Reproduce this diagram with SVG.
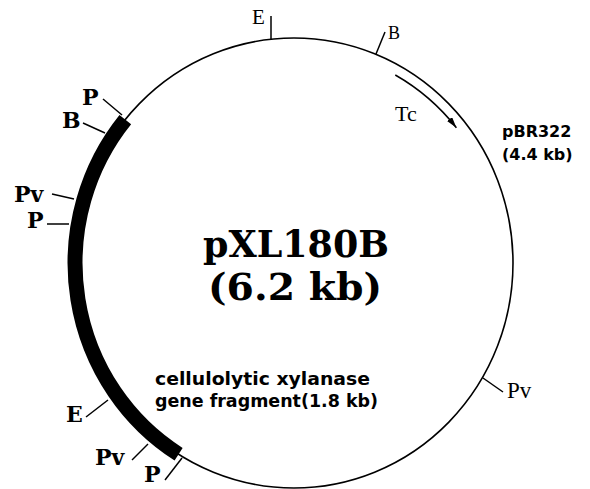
<svg xmlns="http://www.w3.org/2000/svg" width="590" height="489" viewBox="0 0 590 489">
<style>
.bb{fill:none;stroke:#000;stroke-width:1.6}
.tk{fill:none;stroke:#000;stroke-width:1.5}
.lb{font-family:"DejaVu Serif","Liberation Serif",serif;font-weight:bold;font-size:22px;fill:#000}
.rg{font-family:"Liberation Serif","DejaVu Serif",serif;fill:#000}
.sn{font-family:"DejaVu Sans","Liberation Sans",sans-serif;font-weight:bold;fill:#000}
.tt{font-family:"DejaVu Serif","Liberation Serif",serif;font-weight:bold;font-size:38px;fill:#000}
</style>
<defs>
<marker id="ah" markerWidth="12" markerHeight="7" refX="11" refY="3.2" orient="auto" markerUnits="userSpaceOnUse">
<path d="M0,0 L11,3.2 L0,6.4 z" fill="#000"/>
</marker>
</defs>
<rect width="590" height="489" fill="#fff"/>

<g id="plasmid">
<ellipse class="bb" cx="294" cy="263" rx="219" ry="225"/>
</g>

<g id="insert">
<path d="M178.6,454.2 A219,225 0 0 1 125.3,119.6" fill="none" stroke="#000" stroke-width="15"/>
</g>

<g id="connectors">
<line class="tk" x1="271" y1="16" x2="271" y2="39"/>
<line class="tk" x1="376" y1="54" x2="385" y2="32"/>
<line class="tk" x1="483" y1="378" x2="503" y2="392"/>
<line class="tk" x1="103" y1="99" x2="122" y2="115"/>
<line class="tk" x1="83" y1="123" x2="105" y2="133"/>
<line class="tk" x1="52" y1="194" x2="74" y2="199"/>
<line class="tk" x1="47" y1="224" x2="69" y2="224"/>
<line class="tk" x1="86" y1="417" x2="108" y2="400"/>
<line class="tk" x1="132" y1="460" x2="148" y2="444"/>
<line class="tk" x1="165" y1="480" x2="182" y2="458"/>
<path class="tk" d="M395.3,75 A209,215 0 0 1 456.4,127.7" marker-end="url(#ah)"/>
</g>

<g id="site-E-top"><text class="rg" x="252" y="24" font-size="21">E</text></g>
<g id="site-B-top"><text class="rg" x="388" y="39" font-size="18">B</text></g>
<g id="site-Pv-right"><text class="rg" x="507" y="398" font-size="23">Pv</text></g>
<g id="gene-Tc"><text class="rg" x="395" y="121" font-size="22">Tc</text></g>

<g id="site-P1"><text class="lb" x="82" y="105">P</text></g>
<g id="site-B1"><text class="lb" x="62" y="128">B</text></g>
<g id="site-Pv1"><text class="lb" x="14" y="202">Pv</text></g>
<g id="site-P2"><text class="lb" x="27" y="228">P</text></g>
<g id="site-E1"><text class="lb" x="66" y="422">E</text></g>
<g id="site-Pv2"><text class="lb" x="95" y="465">Pv</text></g>
<g id="site-P3"><text class="lb" x="144" y="482">P</text></g>

<g id="label-pBR322">
<text class="sn" x="502" y="137" font-size="16">pBR322</text>
<text class="sn" x="502" y="160" font-size="16">(4.4 kb)</text>
</g>

<g id="label-insert">
<text class="sn" x="155" y="385" font-size="17" textLength="215" lengthAdjust="spacingAndGlyphs">cellulolytic xylanase</text>
<text class="sn" x="155" y="407" font-size="17" textLength="223" lengthAdjust="spacingAndGlyphs">gene fragment(1.8 kb)</text>
</g>

<g id="title">
<text class="tt" x="203" y="257" textLength="186" lengthAdjust="spacingAndGlyphs">pXL180B</text>
<text class="tt" x="208" y="300" textLength="174" lengthAdjust="spacingAndGlyphs">(6.2 kb)</text>
</g>
</svg>
